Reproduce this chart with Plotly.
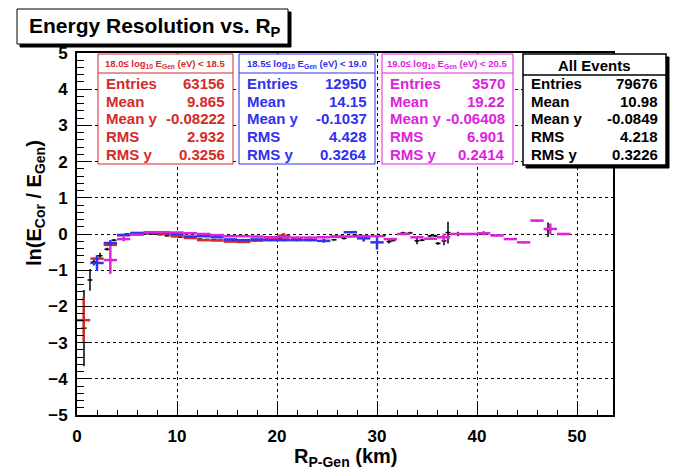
import plotly.graph_objects as go

# ---------------- data ----------------
BIN_W = 4.0 / 3.0  # km, profile bin width for the energy-split series

red_bins = list(range(0, 16))
red_y = [-2.38, -0.68, -0.30, -0.03, 0.03, 0.03, 0.00, -0.06, -0.11, -0.17,
         -0.18, -0.21, -0.22, -0.18, -0.12, -0.05]
red_ey = [0.64, 0.05, 0.04, 0.02, 0.015, 0.015, 0.015, 0.015, 0.015, 0.015,
          0.015, 0.015, 0.02, 0.02, 0.03, 0.08]

blue_bins = list(range(1, 23))
blue_y = [-0.80, -0.25, -0.03, 0.02, 0.03, 0.03, 0.00, -0.07, -0.06, -0.09,
          -0.15, -0.17, -0.15, -0.17, -0.17, -0.17, -0.17, -0.19, -0.07, 0.05,
          -0.12, -0.23]
blue_ey = [0.22, 0.08, 0.03, 0.02, 0.02, 0.02, 0.02, 0.02, 0.02, 0.02,
           0.02, 0.02, 0.02, 0.03, 0.03, 0.03, 0.03, 0.05, 0.03, 0.03,
           0.09, 0.20]

mag_bins = list(range(2, 37))
mag_y = [-0.72, -0.14, -0.02, 0.05, 0.05, 0.04, 0.02, 0.00, -0.03, -0.06,
         -0.06, -0.07, -0.09, -0.09, -0.10, -0.10, -0.09, -0.08, -0.07, -0.06,
         -0.06, -0.14, 0.00, -0.09, -0.13, -0.09, 0.00, 0.00, 0.02, -0.04,
         -0.14, -0.23, 0.37, 0.14, 0.00]
mag_ey = [0.38, 0.06, 0.03, 0.02, 0.02, 0.02, 0.02, 0.02, 0.02, 0.02,
          0.02, 0.02, 0.03, 0.03, 0.03, 0.03, 0.03, 0.03, 0.03, 0.03,
          0.03, 0.03, 0.03, 0.03, 0.03, 0.10, 0.03, 0.03, 0.06, 0.03,
          0.03, 0.03, 0.03, 0.15, 0.03]

all_x = [0.7, 1.3, 1.7, 2.3, 3.0, 3.7, 4.3, 5.0, 5.7, 6.3, 7.0, 7.7, 8.3, 9.0,
         9.7, 10.3, 11.0, 11.7, 12.3, 13.0, 13.7, 14.3, 15.0, 15.7, 16.3, 17.0,
         17.7, 18.3, 19.0, 19.7, 20.3, 21.0, 21.7, 22.3, 23.0, 23.7, 24.7, 25.7,
         26.7, 27.8, 30.6, 31.2, 31.6, 32.6, 33.3, 34.0, 34.5, 35.3, 35.8, 36.1,
         36.7, 37.1, 38.1, 38.8, 39.3, 40.8, 47.1]
all_y = [-2.60, -1.27, -0.77, -0.60, -0.42, -0.17, -0.03, 0.00, 0.02, 0.02,
         0.01, 0.00, -0.02, -0.05, -0.07, -0.09, -0.10, -0.12, -0.14, -0.15,
         -0.16, -0.17, -0.17, -0.18, -0.19, -0.19, -0.19, -0.18, -0.16, -0.14,
         -0.12, -0.10, -0.12, -0.14, -0.15, -0.16, -0.18, -0.16, -0.12, -0.03,
         -0.05, -0.21, -0.18, 0.03, 0.03, -0.19, -0.17, -0.05, -0.05, -0.26,
         -0.19, 0.04, 0.00, 0.00, 0.00, 0.02, 0.12]
all_ey = [1.05, 0.30, 0.10, 0.08, 0.04, 0.03, 0.02, 0.01, 0.01, 0.01,
          0.01, 0.01, 0.01, 0.01, 0.01, 0.01, 0.01, 0.01, 0.01, 0.01,
          0.01, 0.01, 0.01, 0.01, 0.01, 0.01, 0.01, 0.01, 0.01, 0.01,
          0.01, 0.02, 0.02, 0.02, 0.02, 0.02, 0.02, 0.02, 0.03, 0.03,
          0.03, 0.05, 0.03, 0.03, 0.03, 0.09, 0.03, 0.03, 0.03, 0.04,
          0.12, 0.30, 0.06, 0.03, 0.03, 0.03, 0.20]

stat_labels = ["Entries", "Mean", "Mean y", "RMS", "RMS y"]
red_stats = ["63156", "9.865", "-0.08222", "2.932", "0.3256"]
blue_stats = ["12950", "14.15", "-0.1037", "4.428", "0.3264"]
mag_stats = ["3570", "19.22", "-0.06408", "6.901", "0.2414"]
all_stats = ["79676", "10.98", "-0.0849", "4.218", "0.3226"]

RED = "#d42b2b"
BLUE = "#3131f0"
MAG = "#dd22dd"
BLK = "#000000"
FONT = "Liberation Sans, Arial, Helvetica, sans-serif"

# ---------------- figure ----------------
W, H = 675, 470
L, R, T, B = 77, 613, 53, 415


def px(x):
    return (x - L) / (R - L)


def py(y):
    return (B - y) / (B - T)


fig = go.Figure()


def centers(bins):
    return [(b + 0.5) * BIN_W for b in bins]


def add_series(x, y, ey, exw, color, thick):
    fig.add_trace(go.Scatter(
        x=x, y=y, mode="markers",
        marker=dict(size=1, color="rgba(0,0,0,0)", line=dict(width=0)),
        error_x=dict(type="constant", value=exw, width=0, thickness=thick, color=color),
        error_y=dict(type="data", array=ey, width=0, thickness=thick, color=color),
        showlegend=False, hoverinfo="skip"))


add_series(all_x, all_y, all_ey, 0.25, BLK, 1.5)
add_series(centers(red_bins), red_y, red_ey, BIN_W / 2, RED, 2.5)
add_series(centers(blue_bins), blue_y, blue_ey, BIN_W / 2, BLUE, 2.5)
add_series(centers(mag_bins), mag_y, mag_ey, BIN_W / 2, MAG, 2.5)

shapes = []
annos = []


def rect(x0, y0, x1, y1, line_color, lw=1, fill="white"):
    shapes.append(dict(type="rect", xref="paper", yref="paper",
                       x0=px(x0), x1=px(x1), y0=py(y1), y1=py(y0),
                       line=dict(color=line_color, width=lw), fillcolor=fill, layer="above"))


def hline(x0, x1, y, color, lw=1):
    shapes.append(dict(type="line", xref="paper", yref="paper",
                       x0=px(x0), x1=px(x1), y0=py(y), y1=py(y),
                       line=dict(color=color, width=lw), layer="above"))


def text(x, y, s, color, size, anchor="left"):
    annos.append(dict(xref="paper", yref="paper", x=px(x), y=py(y), text=s,
                      showarrow=False, xanchor=anchor, yanchor="middle",
                      font=dict(family=FONT, size=size, color=color, weight="bold")))


row_y = [83, 101, 118.5, 136.5, 154]


def statbox(x0, x1, y0, y1, color, header, vals, header_size, sep_y, lw=1, shadow=False):
    if shadow:
        rect(x0 + 3, y0 + 3, x1 + 3, y1 + 3, BLK, 1, BLK)
    rect(x0, y0, x1, y1, color, lw)
    hline(x0, x1, sep_y, color, lw)
    text((x0 + x1) / 2, (y0 + sep_y) / 2 + 0.5, header, color, header_size, "center")
    for lab, v, yy in zip(stat_labels, vals, row_y):
        text(x0 + 6, yy, lab, color, 15, "left")
        text(x1 - 6, yy, v, color, 15, "right")


hdr = "{a}\u2264 log<sub>10</sub> E<sub>Gen</sub> (eV) < {b}"
statbox(98, 233, 54, 164, RED, hdr.format(a="18.0", b="18.5"), red_stats, 9.5, 73)
statbox(239, 375, 54, 164, BLUE, hdr.format(a="18.5", b="19.0"), blue_stats, 9.5, 73)
statbox(382, 513, 54, 164, MAG, hdr.format(a="19.0", b="20.5"), mag_stats, 9.5, 73)
statbox(523, 666, 54, 165, BLK, "All Events", all_stats, 15, 75, 1.5, shadow=True)

# title box
rect(20, 12, 291, 47, BLK, 1, BLK)
rect(17, 9, 288, 44, BLK, 1)
text(27, 27, "Energy Resolution vs. R<sub>P</sub>", BLK, 21, "left")

# axis titles
annos.append(dict(xref="paper", yref="paper", x=px(345), y=py(457),
                  text="R<sub>P-Gen</sub> (km)", showarrow=False,
                  xanchor="center", yanchor="middle",
                  font=dict(family=FONT, size=20, color=BLK, weight="bold")))
annos.append(dict(xref="paper", yref="paper", x=px(35), y=py(203),
                  text="ln(E<sub>Cor</sub> / E<sub>Gen</sub>)", showarrow=False,
                  textangle=-90, xanchor="center", yanchor="middle",
                  font=dict(family=FONT, size=20, color=BLK, weight="bold")))

fig.update_layout(
    width=W, height=H,
    margin=dict(l=L, r=W - R, t=T, b=H - B, pad=0),
    paper_bgcolor="white", plot_bgcolor="white",
    shapes=shapes, annotations=annos,
    xaxis=dict(range=[0, 53.6], dtick=10, tick0=0, ticks="inside", ticklen=11,
               tickwidth=1, tickcolor=BLK, showline=True, linewidth=2, linecolor=BLK,
               mirror=True, showgrid=True, gridcolor=BLK, griddash="dot", gridwidth=1,
               zeroline=False, ticklabelstandoff=5,
               tickfont=dict(family=FONT, size=17, color=BLK, weight="bold"),
               minor=dict(dtick=2, ticks="inside", ticklen=5, tickcolor=BLK, showgrid=False)),
    yaxis=dict(range=[-5, 5], dtick=1, tick0=0, ticks="inside", ticklen=15,
               tickwidth=1, tickcolor=BLK, showline=True, linewidth=2, linecolor=BLK,
               mirror=True, showgrid=True, gridcolor=BLK, griddash="dot", gridwidth=1,
               zeroline=False, ticklabelstandoff=4,
               tickfont=dict(family=FONT, size=17, color=BLK, weight="bold"),
               minor=dict(dtick=0.2, ticks="inside", ticklen=7, tickcolor=BLK, showgrid=False)),
)

fig.write_html("out.html")
